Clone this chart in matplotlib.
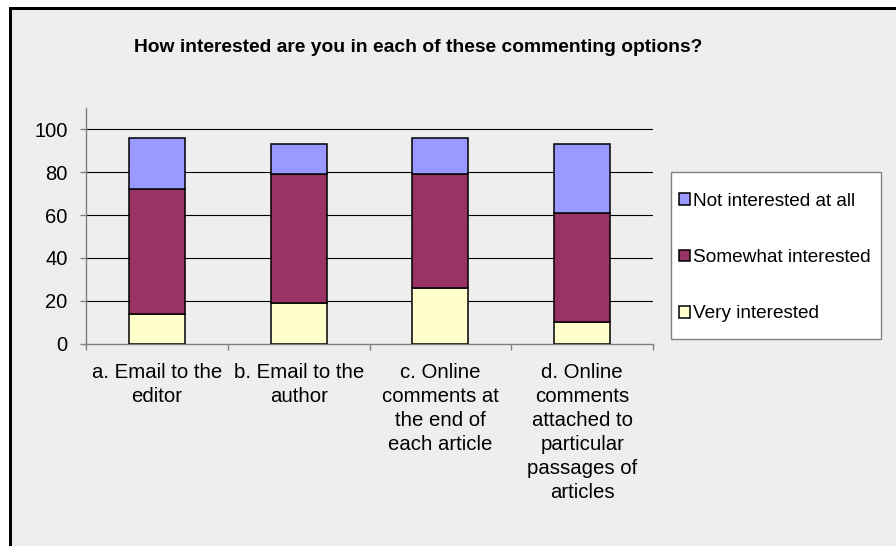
import matplotlib
matplotlib.use("Agg")
import matplotlib.pyplot as plt
from matplotlib.patches import Rectangle
import numpy as np

plt.rcParams['font.family'] = ['Liberation Sans', 'DejaVu Sans']

categories = ["a. Email to the\neditor", "b. Email to the\nauthor",
              "c. Online\ncomments at\nthe end of\neach article",
              "d. Online\ncomments\nattached to\nparticular\npassages of\narticles"]
very = [14, 19, 26, 10]
somewhat = [58, 60, 53, 51]
not_at_all = [24, 14, 17, 32]
series_names = ["Very interested", "Somewhat interested", "Not interested at all"]
colors = ["#FFFFCC", "#993366", "#9999FF"]
yticks = [0, 20, 40, 60, 80, 100]
title = "How interested are you in each of these commenting options?"

W, H = 896, 546
fig = plt.figure(figsize=(W/100, H/100), dpi=100, facecolor="#EEEEEE")

# outer frame (white margin + black border)
fig.add_artist(Rectangle((0, 1 - 7/H), 1, 7/H, transform=fig.transFigure, facecolor="white", edgecolor="none"))
fig.add_artist(Rectangle((0, 0), 9/W, 1, transform=fig.transFigure, facecolor="white", edgecolor="none"))
fig.add_artist(Rectangle((9/W, 0), 3/W, 1 - 7/H, transform=fig.transFigure, facecolor="black", edgecolor="none"))
fig.add_artist(Rectangle((9/W, 1 - 10/H), 1, 3/H, transform=fig.transFigure, facecolor="black", edgecolor="none"))

ax_left, ax_right = 86, 653
ax_top, ax_bottom = 108, 343.7
ax = fig.add_axes([ax_left/W, 1 - ax_bottom/H, (ax_right-ax_left)/W, (ax_bottom-ax_top)/H])
ax.set_facecolor("none")

x = np.arange(len(categories))
bw = 0.395
very_a = np.array(very); some_a = np.array(somewhat); not_a = np.array(not_at_all)
b1 = ax.bar(x, very_a, bw, color=colors[0], edgecolor="black", linewidth=1.1, zorder=3, label=series_names[0])
b2 = ax.bar(x, some_a, bw, bottom=very_a, color=colors[1], edgecolor="black", linewidth=1.1, zorder=3, label=series_names[1])
b3 = ax.bar(x, not_a, bw, bottom=very_a+some_a, color=colors[2], edgecolor="black", linewidth=1.1, zorder=3, label=series_names[2])

ax.set_xlim(-0.5, len(categories)-0.5)
ax.set_ylim(0, 110)
ax.set_yticks(yticks)
ax.set_yticklabels([str(v) for v in yticks], fontsize=14.5)
for v in yticks[1:]:
    ax.axhline(v, color="black", linewidth=0.8, zorder=1)

for s in ["top", "right"]:
    ax.spines[s].set_visible(False)
for s in ["left", "bottom"]:
    ax.spines[s].set_color("#808080")
    ax.spines[s].set_linewidth(1.0)

ax.tick_params(axis="y", length=4.3, width=1.0, color="#808080", pad=9, direction="out")
ax.set_xticks(x)
ax.set_xticklabels(categories, fontsize=14.7, linespacing=1.33)
ax.tick_params(axis="x", which="major", length=0, pad=14)
ax.set_xticks(np.arange(-0.5, len(categories), 1.0), minor=True)
ax.tick_params(axis="x", which="minor", length=4.3, width=1.0, color="#808080", direction="out")

fig.text(418.5/W, 1 - 52/H, title, ha="center", va="baseline", fontsize=13.85, fontweight="bold")

# legend frame
lx0, lx1, ly0, ly1 = 671, 881, 172, 339
fig.add_artist(Rectangle((lx0/W, 1 - ly1/H), (lx1-lx0)/W, (ly1-ly0)/H, transform=fig.transFigure,
                         facecolor="white", edgecolor="#808080", linewidth=1.0, zorder=4))
handles = [b3, b2, b1]
leg = fig.legend(handles, [series_names[2], series_names[1], series_names[0]],
                 loc="upper left", bbox_to_anchor=(679/W, 1 - 193/H),
                 frameon=False, fontsize=13.7,
                 handlelength=0.58, handleheight=0.58, handletextpad=0.16,
                 labelspacing=2.06, borderpad=0, borderaxespad=0)
leg.set_zorder(5)

fig.savefig("out.png", dpi=100, facecolor=fig.get_facecolor())
